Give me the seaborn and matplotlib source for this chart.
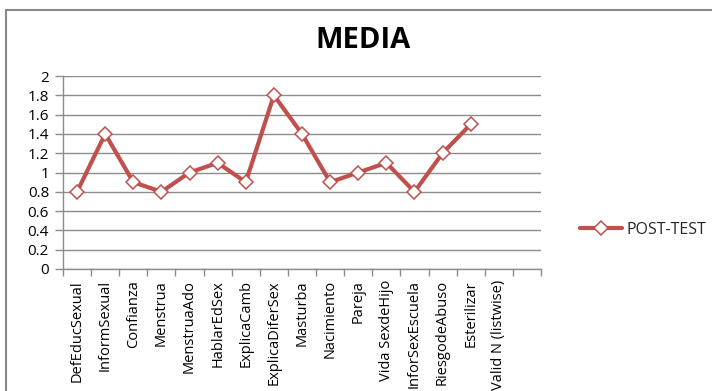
import numpy as np
import pandas as pd
import matplotlib
matplotlib.use("Agg")
import matplotlib.pyplot as plt
from matplotlib.patches import Rectangle
from matplotlib.ticker import FixedLocator
from matplotlib.lines import Line2D
import seaborn as sns

categories = ["DefEducSexual", "InformSexual", "Confianza", "Menstrua", "MenstruaAdo",
              "HablarEdSex", "ExplicaCamb", "ExplicaDiferSex", "Masturba", "Nacimiento",
              "Pareja", "Vida SexdeHijo", "InforSexEscuela", "RiesgodeAbuso", "Esterilizar",
              "Valid N (listwise)"]
post_test = [0.8, 1.4, 0.9, 0.8, 1.0, 1.1, 0.9, 1.8, 1.4, 0.9, 1.0, 1.1, 0.8, 1.2, 1.5, np.nan]
y_ticks = [0, 0.2, 0.4, 0.6, 0.8, 1, 1.2, 1.4, 1.6, 1.8, 2]
series_name = "POST-TEST"
title = "MEDIA"

sns.set_theme(style="white")
plt.rcParams['font.family'] = ['Open Sans', 'DejaVu Sans']

W, H = 712, 391
fig = plt.figure(figsize=(W / 100, H / 100), dpi=100)
ax = fig.add_axes([63 / W, 1 - 269 / H, (541 - 63) / W, (269 - 76) / H])

df = pd.DataFrame({"pos": np.arange(len(categories)), "val": post_test})
red = "#C0504D"
sns.lineplot(data=df.dropna(), x="pos", y="val", ax=ax, color=red, linewidth=3,
             marker="D", markersize=7, markerfacecolor="white", markeredgecolor=red,
             markeredgewidth=1.1, label=series_name, legend=False)

n = len(categories) + 1  # 17 slots including trailing empty
ax.set_xlim(-0.5, n - 0.5)
ax.set_ylim(0, 2)
ax.set_yticks(y_ticks)
ax.set_yticklabels(["%g" % v for v in y_ticks])

ax.set_xticks(np.arange(len(categories)))
ax.set_xticklabels(categories, rotation=90, fontsize=10.5, color="#000000")
ax.xaxis.set_minor_locator(FixedLocator(np.arange(-0.5, n, 1.0)))
ax.tick_params(axis="x", which="major", length=0, pad=8)
ax.tick_params(axis="x", which="minor", length=5, width=1, color="#8c8c8c", bottom=True)
ax.tick_params(axis="y", which="major", length=6, width=1, color="#8c8c8c",
               labelsize=11, labelcolor="#000000", pad=4, left=True)

ax.grid(axis="y", color="#8c8c8c", linewidth=1)
ax.set_axisbelow(True)
for s in ["top", "right"]:
    ax.spines[s].set_visible(False)
for s in ["left", "bottom"]:
    ax.spines[s].set_color("#8c8c8c")
    ax.spines[s].set_linewidth(1)
ax.set_xlabel("")
ax.set_ylabel("")

fig.text(363 / W, 1 - 40 / H, title, ha="center", va="center", fontsize=21,
         fontweight="bold", color="#000000")

leg_handle = Line2D([0], [0], color=red, linewidth=3, marker="D", markersize=7,
                    markerfacecolor="white", markeredgecolor=red, markeredgewidth=1.1)
fig.legend([leg_handle], [series_name], loc="center left",
           bbox_to_anchor=(580 / W, 1 - 230 / H), frameon=False, fontsize=11.5,
           handlelength=2.6, handletextpad=0.3, borderaxespad=0, borderpad=0)

# chart area border
fig.patches.append(Rectangle((6 / W, -0.1), 1.2, 1 - 10 / H + 0.1, transform=fig.transFigure,
                             fill=False, edgecolor="#888888", linewidth=1.5))

fig.savefig("out.png", dpi=100)
